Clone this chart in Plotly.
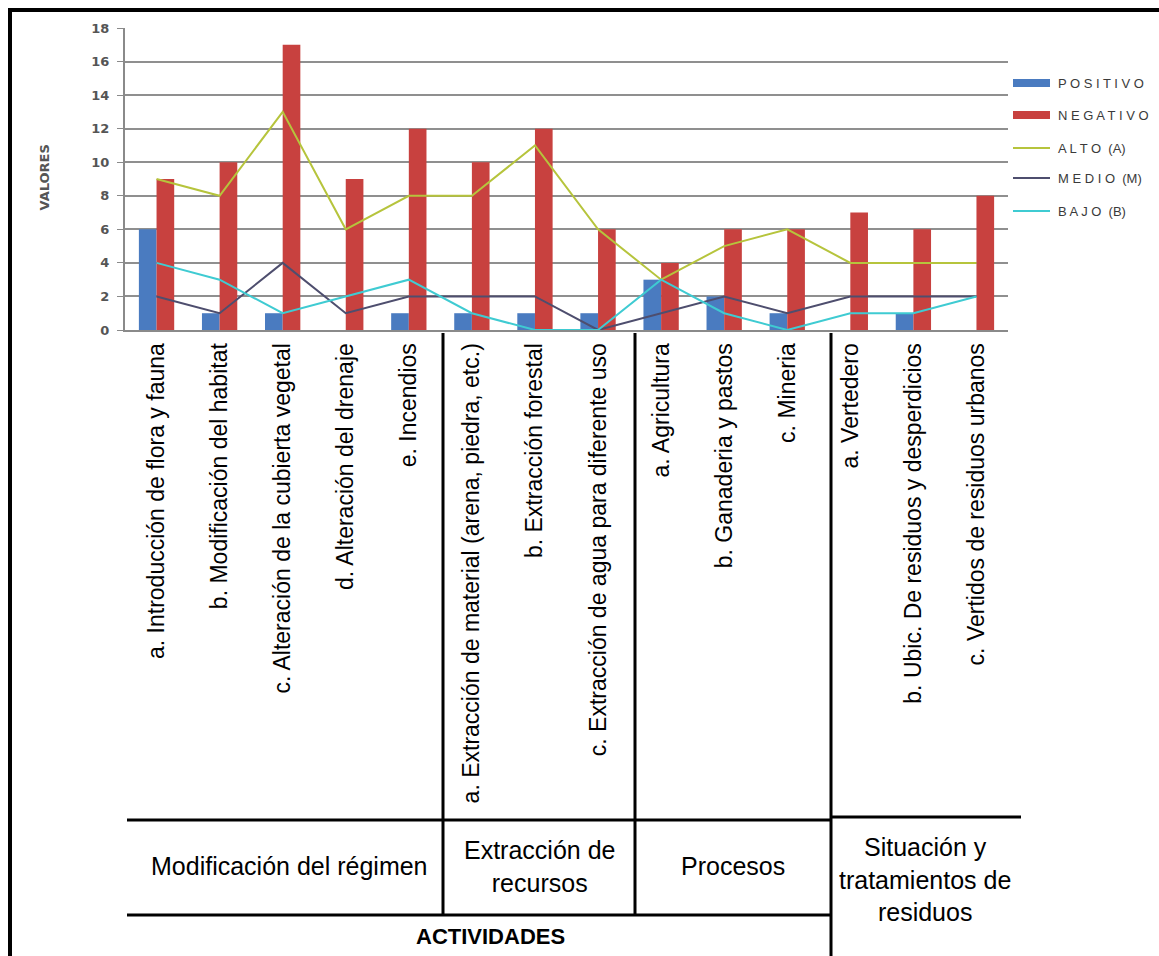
import plotly.graph_objects as go

# Activities evaluated (x-axis categories)
categorias = [
    "a. Introducción de flora y fauna",
    "b. Modificación del habitat",
    "c. Alteración de la cubierta vegetal",
    "d. Alteración del drenaje",
    "e. Incendios",
    "a. Extracción de material (arena, piedra, etc.)",
    "b. Extracción forestal",
    "c. Extracción de agua para diferente uso",
    "a. Agricultura",
    "b. Ganaderia y pastos",
    "c. Mineria",
    "a. Vertedero",
    "b. Ubic. De residuos y desperdicios",
    "c. Vertidos de residuos urbanos",
]

positivo = [6, 1, 1, 0, 1, 1, 1, 1, 3, 2, 1, 0, 1, 0]
negativo = [9, 10, 17, 9, 12, 10, 12, 6, 4, 6, 6, 7, 6, 8]
alto = [9, 8, 13, 6, 8, 8, 11, 6, 3, 5, 6, 4, 4, 4]
medio = [2, 1, 4, 1, 2, 2, 2, 0, 1, 2, 1, 2, 2, 2]
bajo = [4, 3, 1, 2, 3, 1, 0, 0, 3, 1, 0, 1, 1, 2]

y_ticks = [0, 2, 4, 6, 8, 10, 12, 14, 16, 18]

grupos = [
    "Modificación del régimen",
    "Extracción de<br>recursos",
    "Procesos",
    "Situación y<br>tratamientos de<br>residuos",
]

series_barras = [
    ("P O S I T I V O", positivo, "#4A7BC0"),
    ("N E G A T I V O", negativo, "#C8413F"),
]
series_lineas = [
    ("A L T O  (A)", alto, "#B6C43C"),
    ("M E D I O  (M)", medio, "#4E4E6E"),
    ("B A J O  (B)", bajo, "#3FCBD2"),
]

W, H = 1159, 956
ML, MR, MT, MB = 125, 151, 28, 626
PW, PH = W - ML - MR, H - MT - MB


def px(x):
    return (x - ML) / PW


def py(y):
    return (H - MB - y) / PH


fig = go.Figure()
for nombre, vals, color in series_barras:
    fig.add_trace(go.Bar(x=categorias, y=vals, name=nombre,
                         marker=dict(color=color, line=dict(width=0)),
                         showlegend=False))
for nombre, vals, color in series_lineas:
    fig.add_trace(go.Scatter(x=categorias, y=vals, name=nombre, mode="lines",
                             line=dict(color=color, width=2),
                             showlegend=False))

shapes = []
annotations = []

# Legend drawn beside the plot
leg_x0, leg_x1, leg_tx = 1013, 1050, 1056
leg_y = [83, 115, 148, 178, 211]
items = [(n, c, "bar") for n, _, c in series_barras] + [(n, c, "line") for n, _, c in series_lineas]
for (nombre, color, kind), yy in zip(items, leg_y):
    if kind == "bar":
        shapes.append(dict(type="rect", xref="paper", yref="paper",
                           x0=px(leg_x0), x1=px(leg_x1), y0=py(yy + 4), y1=py(yy - 4),
                           fillcolor=color, line=dict(width=0)))
    else:
        shapes.append(dict(type="line", xref="paper", yref="paper",
                           x0=px(leg_x0), x1=px(leg_x1), y0=py(yy), y1=py(yy),
                           line=dict(color=color, width=2)))
    annotations.append(dict(xref="paper", yref="paper", x=px(leg_tx), y=py(yy),
                            text=nombre, showarrow=False, xanchor="left", yanchor="middle",
                            font=dict(family="Liberation Sans, Arial", size=13, color="#3a3a3a")))

# Y-axis title
annotations.append(dict(xref="paper", yref="paper", x=px(34), y=py(178), text="<b>VALORES</b>",
                        textangle=-90, showarrow=False,
                        font=dict(family="DejaVu Sans, Verdana", size=13, color="#555")))

# Outer frame
blk = dict(color="black", width=4)
shapes.append(dict(type="line", xref="paper", yref="paper", x0=px(10), x1=px(W), y0=py(10), y1=py(10), line=blk))
shapes.append(dict(type="line", xref="paper", yref="paper", x0=px(10), x1=px(10), y0=py(8), y1=py(H), line=blk))

# Group table lines
tl = dict(color="black", width=3)
for xv, ybot in [(443, 915), (635, 915), (831, H)]:
    shapes.append(dict(type="line", xref="paper", yref="paper", x0=px(xv), x1=px(xv),
                       y0=py(333), y1=py(ybot), line=tl))
shapes.append(dict(type="line", xref="paper", yref="paper", x0=px(127), x1=px(831), y0=py(820), y1=py(820), line=tl))
shapes.append(dict(type="line", xref="paper", yref="paper", x0=px(831), x1=px(1021), y0=py(817), y1=py(817), line=tl))
shapes.append(dict(type="line", xref="paper", yref="paper", x0=px(127), x1=px(831), y0=py(915), y1=py(915), line=tl))

gfont = dict(family="Liberation Sans, Arial", size=25, color="black")
for texto, cx, cy in zip(grupos, [289, 539, 733, 925], [866, 866, 866, 880]):
    annotations.append(dict(xref="paper", yref="paper", x=px(cx), y=py(cy), text=texto,
                            showarrow=False, xanchor="center", yanchor="middle", font=gfont))
annotations.append(dict(xref="paper", yref="paper", x=px(490), y=py(936), text="<b>ACTIVIDADES</b>",
                        showarrow=False, xanchor="center", yanchor="middle",
                        font=dict(family="Liberation Sans, Arial", size=22, color="black")))

fig.update_layout(
    width=W, height=H,
    margin=dict(l=ML, r=MR, t=MT, b=MB, autoexpand=False),
    paper_bgcolor="white", plot_bgcolor="white",
    barmode="group", bargap=0.44, bargroupgap=0,
    showlegend=False,
    shapes=shapes, annotations=annotations,
    xaxis=dict(type="category", tickangle=-90, ticks="", showgrid=False,
               showline=True, linecolor="#8a8a8a", linewidth=2,
               tickfont=dict(family="Liberation Sans, Arial", size=23, color="black"),
               ticklabelstandoff=2, automargin=False, fixedrange=True),
    yaxis=dict(range=[0, 18], tickvals=y_ticks, ticks="outside", ticklen=6,
               tickcolor="#8a8a8a", showgrid=True, gridcolor="#8f8f8f", gridwidth=1.5,
               showline=True, linecolor="#8a8a8a", linewidth=2, zeroline=False,
               tickfont=dict(family="DejaVu Sans, Verdana", size=13, color="#555", weight="bold"),
               ticklabelstandoff=5, automargin=False, fixedrange=True),
)

fig.write_html("out.html")
